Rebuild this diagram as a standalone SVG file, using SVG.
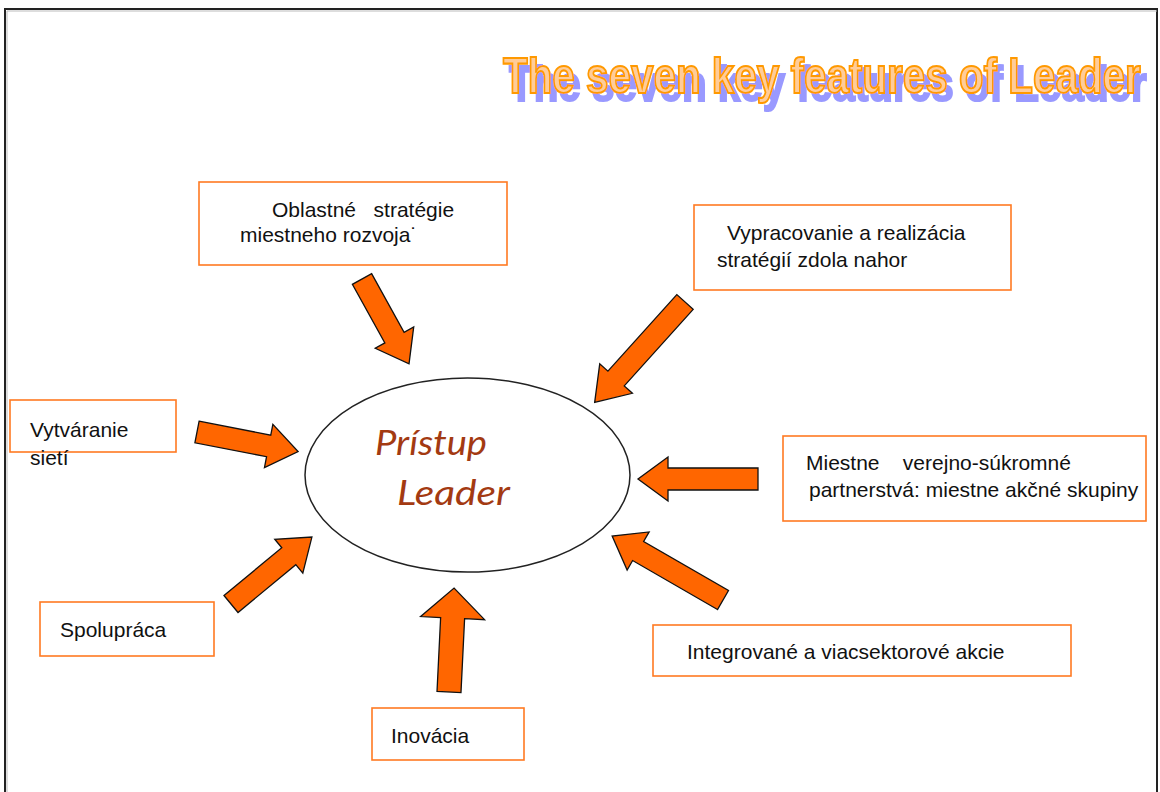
<svg xmlns="http://www.w3.org/2000/svg" width="1160" height="792" viewBox="0 0 1160 792">
<defs>
<filter id="shadow" x="-5%" y="-20%" width="110%" height="150%">
<feFlood flood-color="#9999FF" result="c"/>
<feComposite in="c" in2="SourceAlpha" operator="in" result="s"/>
<feOffset in="s" dx="6" dy="6.5" result="o"/>
<feMerge><feMergeNode in="o"/><feMergeNode in="SourceGraphic"/></feMerge>
</filter>
</defs>
<style>
.box{fill:#fff;stroke:#FF7A22;stroke-width:1.6}
.lbl{font-family:"Liberation Sans",Arial,sans-serif;font-size:21px;fill:#111}
.arr{fill:#FF6600;stroke:#111;stroke-width:1.3;stroke-linejoin:miter}
.ttl{font-family:"Liberation Sans",Arial,sans-serif;font-weight:bold;font-size:41px}
.ctr{font-family:"Comic Sans MS","Lato","DejaVu Sans",sans-serif;font-style:italic;font-size:35px;fill:#A33A12}
</style>
<rect x="0" y="0" width="1160" height="792" fill="#fff"/>
<g id="frame" fill="none">
<path d="M5,792 V9 H1157 V792" stroke="#222" stroke-width="2"/>
<path d="M7,792 V11 H1157" stroke="#bbb" stroke-width="1"/>
</g>
<g id="title">
<text class="ttl" transform="translate(503,93) scale(0.986,1.24)" x="0" y="0" fill="#FFCC99" stroke="#FF9900" stroke-width="1.7" filter="url(#shadow)">The seven key features of Leader</text>
</g>
<g id="connectors">
<path class="arr" transform="translate(362,279) rotate(61)" d="M0,-11 H67 V-22 L97,0 L67,22 V11 H0 Z"/>
<path class="arr" transform="translate(685,302) rotate(132)" d="M0,-11 H103 V-22 L135,0 L103,22 V11 H0 Z"/>
<path class="arr" transform="translate(197,432) rotate(11)" d="M0,-11 H73 V-22 L103,0 L73,22 V11 H0 Z"/>
<path class="arr" transform="translate(758,479) rotate(180)" d="M0,-11 H90 V-22 L120,0 L90,22 V11 H0 Z"/>
<path class="arr" transform="translate(231,604) rotate(-39.6)" d="M0,-11 H75 V-22 L105,0 L75,22 V11 H0 Z"/>
<path class="arr" transform="translate(723,600) rotate(-150)" d="M0,-11 H98 V-22 L128,0 L98,22 V11 H0 Z"/>
<path class="arr" transform="translate(449,692) rotate(-87.2)" d="M0,-12 H74 V-32 L104,0 L74,32 V12 H0 Z"/>
</g>
<g id="center">
<ellipse cx="467.5" cy="475" rx="162.5" ry="97" fill="#fff" stroke="#222" stroke-width="1.5"/>
<text class="ctr" x="375" y="455" textLength="112" lengthAdjust="spacingAndGlyphs">Prístup</text>
<text class="ctr" x="397" y="505" textLength="113" lengthAdjust="spacingAndGlyphs">Leader</text>
</g>
<g id="n-oblastne">
<rect class="box" x="199" y="182" width="308" height="83"/>
<text class="lbl" x="272" y="217" xml:space="preserve">Oblastné   stratégie</text>
<text class="lbl" x="240" y="242">miestneho rozvoja˙</text>
</g>
<g id="n-vypracovanie">
<rect class="box" x="694" y="205" width="317" height="85"/>
<text class="lbl" x="727" y="240">Vypracovanie a realizácia</text>
<text class="lbl" x="717" y="267">stratégií zdola nahor</text>
</g>
<g id="n-vytvaranie">
<rect class="box" x="10" y="400" width="166" height="52"/>
<text class="lbl" x="30" y="437">Vytváranie</text>
<text class="lbl" x="30" y="465">sietí</text>
</g>
<g id="n-miestne">
<rect class="box" x="783" y="436" width="363" height="85"/>
<text class="lbl" x="806" y="470" xml:space="preserve">Miestne    verejno-súkromné</text>
<text class="lbl" x="809" y="497">partnerstvá: miestne akčné skupiny</text>
</g>
<g id="n-spolupraca">
<rect class="box" x="40" y="602" width="174" height="54"/>
<text class="lbl" x="60" y="637">Spolupráca</text>
</g>
<g id="n-integrovane">
<rect class="box" x="653" y="625" width="418" height="51"/>
<text class="lbl" x="687" y="659">Integrované a viacsektorové akcie</text>
</g>
<g id="n-inovacia">
<rect class="box" x="372" y="708" width="152" height="52"/>
<text class="lbl" x="391" y="743">Inovácia</text>
</g>
</svg>
